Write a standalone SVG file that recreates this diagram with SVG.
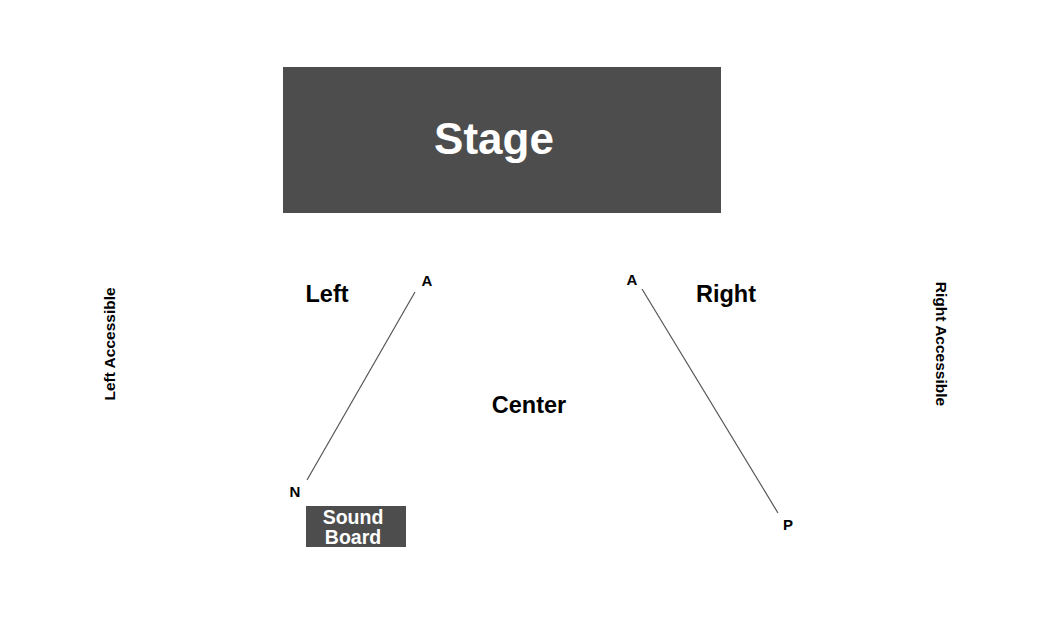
<svg xmlns="http://www.w3.org/2000/svg" width="1050" height="640" viewBox="0 0 1050 640">
<style>
text{font-family:"Liberation Sans",Arial,sans-serif;font-weight:bold;fill:#000}
.box{fill:#4d4d4d}
.w{fill:#fff}
.ln{stroke:#555;stroke-width:1.2;fill:none}
</style>
<rect width="1050" height="640" fill="#fff"/>
<g id="stage"><rect class="box" x="283" y="67" width="438" height="146"/><text class="w" x="494" y="154" font-size="44" text-anchor="middle">Stage</text></g>
<g id="soundboard"><rect class="box" x="306" y="506" width="100" height="41"/><text class="w" x="353" y="524" font-size="19.5" text-anchor="middle">Sound</text><text class="w" x="353" y="544" font-size="19.5" text-anchor="middle">Board</text></g>
<g id="left"><text x="327" y="302" font-size="23.5" text-anchor="middle">Left</text></g>
<g id="right"><text x="726" y="302" font-size="23.5" text-anchor="middle">Right</text></g>
<g id="center"><text x="529" y="413" font-size="23.5" text-anchor="middle">Center</text></g>
<g id="leftacc"><text transform="translate(115,344) rotate(-90)" font-size="15.5" text-anchor="middle">Left Accessible</text></g>
<g id="rightacc"><text transform="translate(936,344) rotate(90)" font-size="15.5" text-anchor="middle">Right Accessible</text></g>
<g id="labels" font-size="15">
<text x="427" y="286" text-anchor="middle">A</text>
<text x="632" y="285" text-anchor="middle">A</text>
<text x="295" y="497" text-anchor="middle">N</text>
<text x="788" y="530" text-anchor="middle">P</text>
</g>
<g id="connectors">
<line class="ln" x1="415" y1="292" x2="307" y2="480"/>
<line class="ln" x1="642" y1="289" x2="778" y2="513"/>
</g>
</svg>
